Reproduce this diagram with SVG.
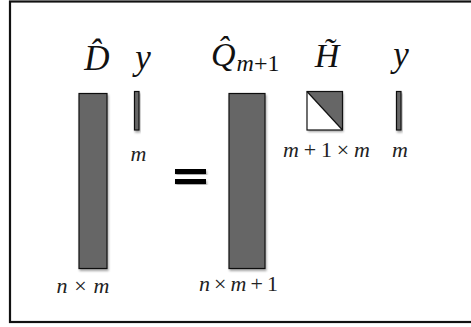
<svg xmlns="http://www.w3.org/2000/svg" width="471" height="327" viewBox="0 0 471 327">
<defs>
<filter id="sh" x="-30%" y="-10%" width="160%" height="130%">
<feDropShadow dx="1" dy="2" stdDeviation="1.3" flood-color="#000" flood-opacity="0.35"/>
</filter>
<style>
.m{fill:#666;stroke:#111;stroke-width:1.2;filter:url(#sh)}
.big{font-family:"Liberation Serif","DejaVu Serif",serif;font-style:italic;fill:#111}
.lbl{font-family:"Liberation Serif","DejaVu Serif",serif;font-style:italic;font-size:22px;fill:#222}
.up{font-style:normal}
</style>
</defs>
<rect width="471" height="327" fill="#fff"/>
<rect x="10" y="1.5" width="470" height="320.5" fill="none" stroke="#111" stroke-width="2.2"/>
<g id="D">
<rect class="m" x="79" y="93.5" width="28" height="175"/>
<text class="big" x="97" y="70" font-size="35" text-anchor="middle">D̂</text>
<text class="lbl" x="83" y="293" textLength="53" text-anchor="middle">n <tspan class="up">×</tspan> m</text>
</g>
<g id="y1">
<rect class="m" x="134.5" y="91.5" width="4.5" height="38.5"/>
<text class="big" x="143" y="69" font-size="35" text-anchor="middle">y</text>
<text class="lbl" x="138.5" y="161" text-anchor="middle" font-size="24">m</text>
</g>
<g id="equals">
<rect x="175" y="169" width="31" height="5" fill="#000" filter="url(#sh)"/>
<rect x="175" y="179" width="31" height="5" fill="#000" filter="url(#sh)"/>
</g>
<g id="Q">
<rect class="m" x="229" y="93.5" width="36" height="175"/>
<text class="big" x="211" y="66" font-size="34">Q̂<tspan font-size="24" dy="5" dx="1">m<tspan class="up">+1</tspan></tspan></text>
<text class="lbl" x="238.5" y="291" textLength="79" text-anchor="middle">n <tspan class="up">×</tspan> m <tspan class="up">+ 1</tspan></text>
</g>
<g id="H">
<rect x="307" y="91.5" width="35.5" height="38.5" fill="#fff" filter="url(#sh)"/>
<polygon points="307,91.5 342.5,91.5 342.5,130" fill="#666"/>
<line x1="307" y1="91.5" x2="342.5" y2="130" stroke="#111" stroke-width="1.2"/>
<rect x="307" y="91.5" width="35.5" height="38.5" fill="none" stroke="#111" stroke-width="1.2"/>
<text class="big" x="327" y="67" font-size="34" text-anchor="middle">H̃</text>
<text class="lbl" x="326.5" y="157" textLength="87" text-anchor="middle">m <tspan class="up">+ 1 ×</tspan> m</text>
</g>
<g id="y2">
<rect class="m" x="396.5" y="91.5" width="4.5" height="38.5"/>
<text class="big" x="401" y="66" font-size="35" text-anchor="middle">y</text>
<text class="lbl" x="400" y="157" text-anchor="middle" font-size="24">m</text>
</g>
<g id="connectors"/>
</svg>
